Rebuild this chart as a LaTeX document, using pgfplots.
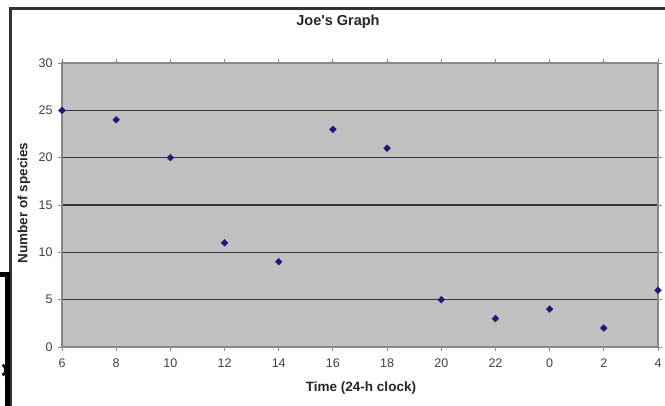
\documentclass[border=0pt]{standalone}
\usepackage{pgfplots}
\pgfplotsset{compat=1.18}
\usepackage{fontspec}
\setmainfont{Liberation Sans}
\definecolor{plotbg}{HTML}{C0C0C0}
\definecolor{axgray}{HTML}{888888}
\definecolor{mk}{HTML}{1A1A80}
\begin{document}
\begin{tikzpicture}[x=1pt,y=1pt]
\useasboundingbox (0,0) rectangle (665,405);
\draw[line width=3.5pt, black!80] (10.5,-5) -- (10.5,396.5) -- (670,396.5);
\draw[line width=5pt] (-2,130) -- (7.5,130) -- (7.5,-5);
\draw[line width=2.5pt] (-1,35) ++(55:6.5) arc[start angle=55,end angle=-55,radius=6.5];
\begin{axis}[
  at={(62pt,58pt)}, anchor=south west,
  scale only axis, width=596pt, height=284pt,
  xmin=0, xmax=11, ymin=0, ymax=30,
  xtick={0,...,11},
  xticklabels={6,8,10,12,14,16,18,20,22,0,2,4},
  ytick={0,5,...,30},
  axis background/.style={fill=plotbg},
  axis line style={axgray, line width=1.6pt},
  tick style={axgray, line width=1pt},
  tick align=outside, major tick length=4pt,
  ymajorgrids, grid style={black!80, line width=1.4pt},
  ticklabel style={font=\fontsize{12.5}{14}\selectfont, text=black!75},
  xticklabel style={yshift=-4pt},
  yticklabel style={xshift=-2pt},
  /pgf/number format/assume math mode=true,
  clip=false,
]
\addplot[only marks, mark=square*, mark size=2.4pt, mark options={rotate=45}, color=mk] coordinates {
(0,25) (1,24) (2,20) (3,11) (4,9) (5,23) (6,21) (7,5) (8,3) (9,4) (10,2) (11,6)
};
\end{axis}
\node[font=\bfseries\fontsize{14.5}{16}\selectfont, text=black!85] at (338,383) {Joe\textquotesingle s Graph};
\node[font=\bfseries\fontsize{13.5}{15}\selectfont, text=black!85] at (361,17) {Time (24-h clock)};
\node[font=\bfseries\fontsize{13.5}{15}\selectfont, text=black!85, rotate=90] at (24,202) {Number of species};
\end{tikzpicture}
\end{document}
